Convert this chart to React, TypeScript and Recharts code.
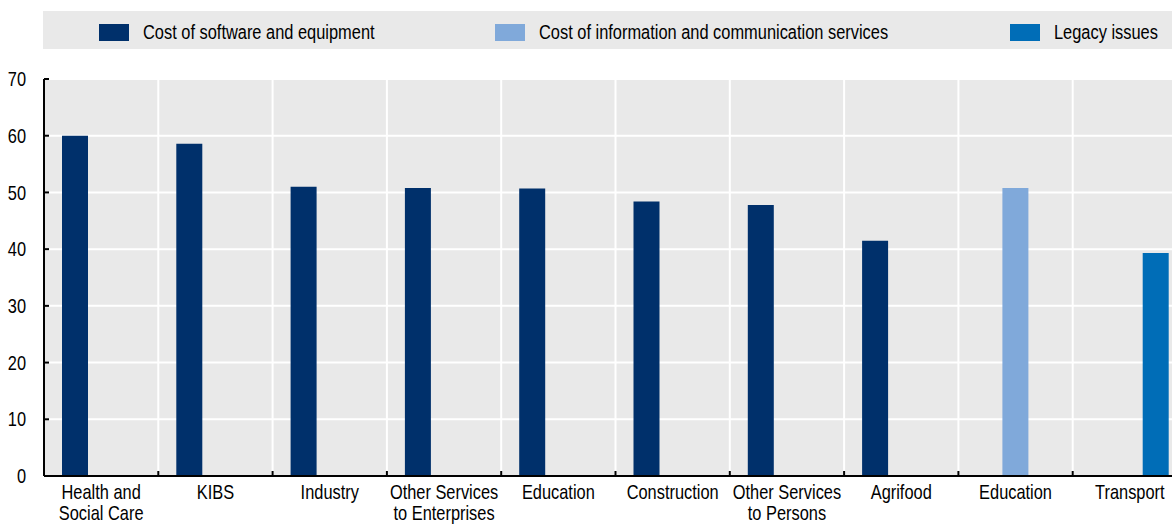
import { BarChart, Bar, XAxis, YAxis, CartesianGrid } from "recharts";

const categories = [
  "Health and|Social Care",
  "KIBS",
  "Industry",
  "Other Services|to Enterprises",
  "Education",
  "Construction",
  "Other Services|to Persons",
  "Agrifood",
  "Education",
  "Transport",
];
const softwareCost = [60.0, 58.6, 51.0, 50.8, 50.7, 48.4, 47.8, 41.5, null, null];
const ictCost = [null, null, null, null, null, null, null, null, 50.8, null];
const legacyIssues = [null, null, null, null, null, null, null, null, null, 39.3];
const yTicks = [0, 10, 20, 30, 40, 50, 60, 70];

const series = [
  { key: "software", label: "Cost of software and equipment", color: "#00306b", left: 56 },
  { key: "ict", label: "Cost of information and communication services", color: "#80a9da", left: 452 },
  { key: "legacy", label: "Legacy issues", color: "#006db7", left: 967 },
];

const data = categories.map((name, i) => ({
  name,
  software: softwareCost[i],
  ict: ictCost[i],
  legacy: legacyIssues[i],
}));

// no Arial Narrow available: squeeze Liberation Sans (Arial metrics) horizontally instead
const FONT = "'Liberation Sans', Arial, sans-serif";
const SQUEEZE = 0.82;

// label centred on the band, plus a small inward tick on the band's left edge
function CategoryTick({ x, y, payload, width, visibleTicksCount }: any) {
  const lines = String(payload.value).split("|");
  const half = width / visibleTicksCount / 2;
  return (
    <g>
      <line x1={x - half} x2={x - half} y1={y} y2={y - 5} stroke="#000" strokeWidth={2} />
      <g transform={`translate(${x},${y}) scale(${SQUEEZE},1)`}>
        <text x={0} y={0} textAnchor="middle" fill="#000" fontSize={20} fontFamily={FONT}>
          {lines.map((line, i) => (
            <tspan key={i} x={0} dy={i === 0 ? 23 : 21}>
              {line}
            </tspan>
          ))}
        </text>
      </g>
    </g>
  );
}

function ValueTick({ x, y, payload }: any) {
  return (
    <g transform={`translate(${x},${y}) scale(${SQUEEZE},1)`}>
      <text x={0} y={0} dy="0.36em" textAnchor="end" fill="#000" fontSize={20} fontFamily={FONT}>
        {payload.value}
      </text>
    </g>
  );
}

function ChartLegend() {
  return (
    <div
      style={{
        position: "absolute",
        left: 43,
        top: 11,
        width: 1129,
        height: 38,
        background: "#e9e9e9",
        fontFamily: FONT,
        fontSize: 20,
        color: "#000",
      }}
    >
      {series.map((s) => (
        <div
          key={s.key}
          style={{ position: "absolute", left: s.left, top: 2, height: 38, display: "flex", alignItems: "center" }}
        >
          <span style={{ width: 30, height: 17, background: s.color, marginRight: 14, flex: "none" }} />
          <span
            style={{
              display: "inline-block",
              whiteSpace: "nowrap",
              transform: `scaleX(${SQUEEZE})`,
              transformOrigin: "left center",
            }}
          >
            {s.label}
          </span>
        </div>
      ))}
    </div>
  );
}

export default function App() {
  return (
    <div
      style={{
        position: "fixed",
        left: 0,
        top: 0,
        width: 1172,
        height: 524,
        overflow: "hidden",
        background: "#fff",
      }}
    >
      <ChartLegend />
      <BarChart
        width={1190}
        height={524}
        data={data}
        margin={{ top: 79, right: 3, bottom: 0, left: 0 }}
        barCategoryGap={18}
        barGap={0}
      >
        <CartesianGrid
          stroke="#fff"
          strokeWidth={2}
          fill="#e9e9e9"
          fillOpacity={1}
          verticalCoordinatesGenerator={({ offset }: any) =>
            categories.map((_, i) => offset.left + (i * offset.width) / categories.length).slice(1)
          }
        />
        <XAxis
          dataKey="name"
          tick={<CategoryTick />}
          tickLine={false}
          tickSize={0}
          tickMargin={0}
          interval={0}
          axisLine={{ stroke: "#000", strokeWidth: 2 }}
          height={48}
        />
        <YAxis
          domain={[0, 70]}
          ticks={yTicks}
          width={44}
          tickSize={-5}
          tickMargin={23}
          tickLine={{ stroke: "#000", strokeWidth: 2 }}
          axisLine={{ stroke: "#000", strokeWidth: 2 }}
          tick={<ValueTick />}
        />
        {series.map((s) => (
          <Bar key={s.key} dataKey={s.key} fill={s.color} isAnimationActive={false} />
        ))}
      </BarChart>
    </div>
  );
}
